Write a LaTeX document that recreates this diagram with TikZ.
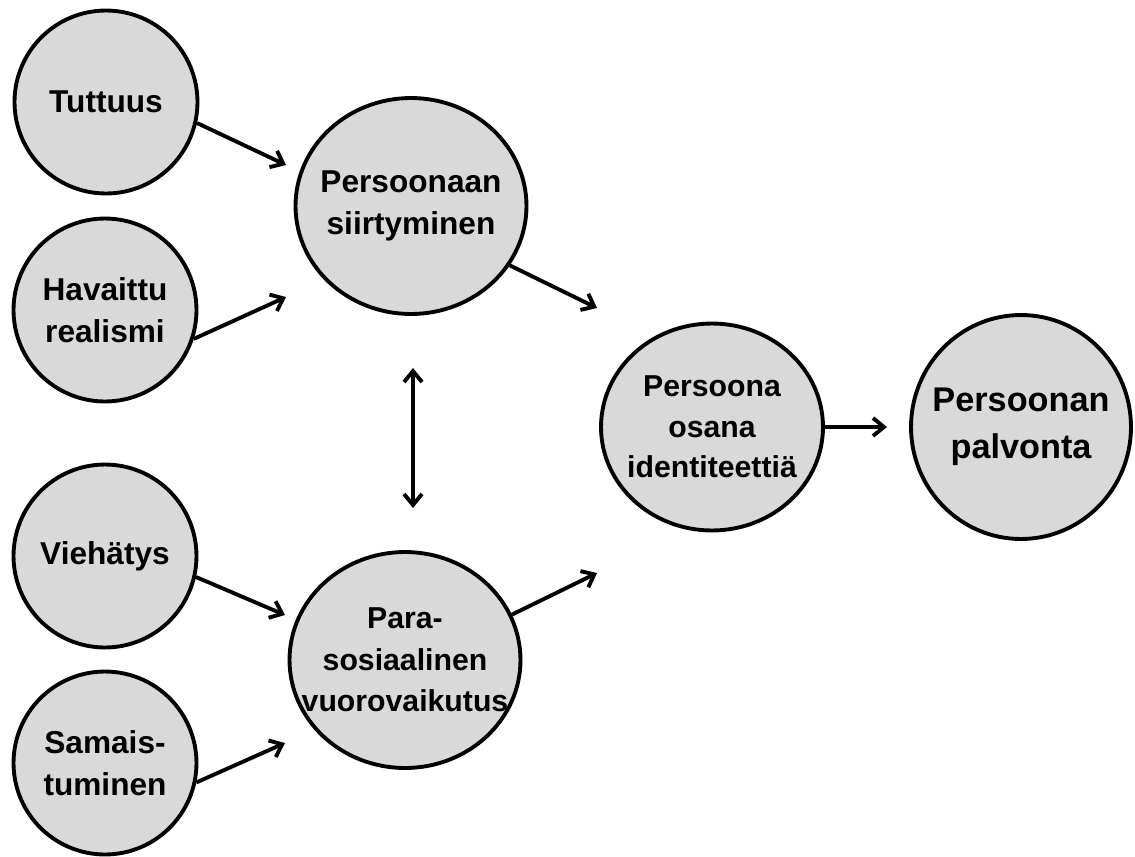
\documentclass[tikz,border=0pt]{standalone}
\usepackage{fontspec}
\setmainfont{Liberation Sans}
\usetikzlibrary{arrows.meta,shapes.geometric}
\tikzset{>={Straight Barb[length=2.2mm,width=3.6mm]}}
\definecolor{bubblegray}{RGB}{217,217,217}
\tikzset{
  bubble/.style={ellipse,draw,line width=2.2pt,fill=bubblegray,inner sep=-1cm,
    align=center,font=\fontsize{18}{24}\selectfont\bfseries},
  small/.style={minimum width=3.66cm,minimum height=3.66cm},
  link/.style={->,line width=2.2pt},
}

\begin{document}
\begin{tikzpicture}[x=0.02cm,y=-0.02cm]
  \useasboundingbox (0,0) rectangle (1135,856);

  % left column
  \node[bubble,small] (tut) at (106,102) {Tuttuus};
  \node[bubble,small] (real) at (105,310) {Havaittu\\realismi};
  \node[bubble,small] (vieh) at (105,556) {Viehätys};
  \node[bubble,small] (sama) at (105,763) {Samais-\\tuminen};

  % middle column
  \node[bubble,minimum width=4.62cm,minimum height=4.32cm] (siir) at (411,206)
    {Persoonaan\\siirtyminen};
  \node[bubble,minimum width=4.62cm,minimum height=4.32cm,
    font=\fontsize{17.2}{23.7}\selectfont\bfseries] (para) at (405,660)
    {Para-\\sosiaalinen\\vuorovaikutus};

  % right
  \node[bubble,minimum width=4.44cm,minimum height=4.14cm,
    font=\fontsize{17.2}{23}\selectfont\bfseries] (iden) at (712,427)
    {Persoona\\osana\\identiteettiä};
  \node[bubble,minimum width=4.4cm,minimum height=4.48cm,
    font=\fontsize{19.5}{26.7}\selectfont\bfseries] (palv) at (1021,427)
    {Persoonan\\palvonta};

  % free arrow ends
  \coordinate (tutend) at (286,165);
  \coordinate (realend) at (286,297);
  \coordinate (viehend) at (285,615);
  \coordinate (samaend) at (285,743);
  \coordinate (siirend) at (597,308);
  \coordinate (paraend) at (597,573);
  \coordinate (idenend) at (887,427);
  \coordinate (uptip) at (413,368);
  \coordinate (downtip) at (413,508);

  % arrows
  \draw[link] (tut.-13) -- (tutend);
  \draw[link] (real.-18) -- (realend);
  \draw[link] (vieh.-13) -- (viehend);
  \draw[link] (sama.-12) -- (samaend);
  \draw[link] (siir.-31) -- (siirend);
  \draw[link] (para.23) -- (paraend);
  \draw[link] (iden.east) -- (idenend);
  \draw[<->,line width=2.2pt] (uptip) -- (downtip);

\end{tikzpicture}
\end{document}
